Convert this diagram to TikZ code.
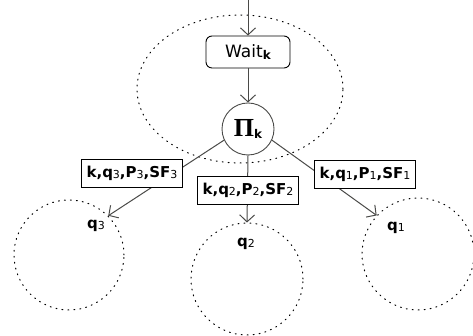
\documentclass[tikz,border=0pt]{standalone}
\usepackage{fontspec}
\setmainfont{DejaVu Sans}
\newfontfamily\greekserif{Liberation Serif}
\usetikzlibrary{arrows.meta, positioning, shapes.geometric}
\definecolor{lineGray}{HTML}{4A4A48}
\newcommand{\lsub}[1]{{\fontsize{11}{11}\selectfont\mdseries\raisebox{-1pt}{#1}}}
\newcommand{\bsub}[1]{{\fontsize{12}{12}\selectfont\bfseries\raisebox{-2pt}{#1}}}

\begin{document}
\begin{tikzpicture}[x=1pt, y=1pt,
    dotline/.style={line width=1pt, dash pattern=on 1pt off 5pt, line cap=round},
    zone/.style={draw, dotline, inner sep=0pt},
    waitbox/.style={draw, rounded corners=6pt, font=\fontsize{17}{17}\selectfont,
                    minimum width=84pt, minimum height=32pt, inner sep=2pt, line width=0.9pt},
    pinode/.style={circle, draw=lineGray, line width=0.9pt, minimum size=52pt, inner sep=0pt},
    lbl/.style={draw, fill=white, font=\fontsize{15}{15}\selectfont\bfseries,
                minimum height=28pt, inner xsep=5pt, inner ysep=3pt, line width=0.9pt},
    qlbl/.style={font=\fontsize{15}{15}\selectfont\bfseries},
    arr/.style={draw=lineGray, line width=1pt, -{Straight Barb[length=7pt, width=15pt, line width=1pt]}},
  ]
    \useasboundingbox (0,0) rectangle (473,336);

    % Regiones punteadas
    \node[zone, ellipse, minimum width=206pt, minimum height=148pt] (region) at (240,247) {};
    \node[zone, circle, minimum size=110pt] (c3) at (69,81) {};
    \node[zone, circle, minimum size=112pt] (c2) at (247,57) {};
    \node[zone, circle, minimum size=112pt] (c1) at (418,82) {};

    % Nodos centrales
    \coordinate (entry) at (248,336);
    \node[waitbox] (wait) at (248,284) {Wait\bsub{k}};
    \node[pinode] (pi) at (248,207) {{\greekserif\bfseries\fontsize{26}{26}\selectfont Π}\bsub{k}};

    \draw[arr] (entry) -- (wait.north);
    \draw[arr] (wait.south) -- (pi.north);

    % Salidas hacia los vecinos
    \draw[arr] (pi.205) -- (c3.45);
    \draw[arr] (pi.south) -- (c2.north);
    \draw[arr] (pi.335) -- (c1.137);

    \node[lbl] (m3) at (132,163) {k,q\lsub{3},P\lsub{3},SF\lsub{3}};
    \node[lbl] (m2) at (248,146) {k,q\lsub{2},P\lsub{2},SF\lsub{2}};
    \node[lbl] (m1) at (365,162) {k,q\lsub{1},P\lsub{1},SF\lsub{1}};

    % Etiquetas de los vecinos
    \node[qlbl] (q3) at (96,110) {q\lsub{3}};
    \node[qlbl] (q2) at (246,92) {q\lsub{2}};
    \node[qlbl] (q1) at (396,108) {q\lsub{1}};
\end{tikzpicture}
\end{document}
